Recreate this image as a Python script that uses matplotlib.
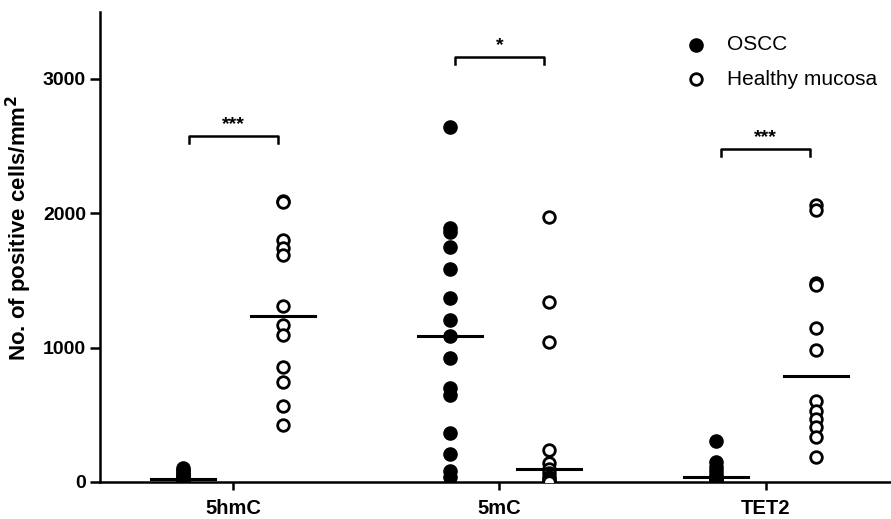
import numpy as np
import matplotlib
matplotlib.use("Agg")
import matplotlib.pyplot as plt

plt.rcParams["font.family"] = ["Liberation Sans", "DejaVu Sans"]

markers = ["5hmC", "5mC", "TET2"]
groups = ["OSCC", "Healthy mucosa"]

oscc = [
    [105, 90, 75, 60, 45, 35, 25, 20, 15, 10, 8, 5, 3, 0],
    [2640, 1890, 1860, 1750, 1585, 1370, 1205, 1090, 925, 700, 650, 365, 205, 80, 40],
    [305, 150, 115, 80, 55, 40, 30, 20, 12, 5, 2, 0],
]
healthy = [
    [2090, 2085, 1800, 1740, 1690, 1310, 1165, 1095, 855, 745, 565, 425],
    [1975, 1340, 1045, 235, 140, 100, 70, 40, 20, 10, 0],
    [2065, 2025, 1480, 1470, 1145, 985, 600, 530, 470, 410, 335, 185],
]
stars = ["***", "*", "***"]
bracket_y = [2575, 3165, 2480]

OFF = 0.1875

fig = plt.figure(figsize=(8.91, 5.19), dpi=100)
ax = fig.add_axes([0.1122, 0.0713, 0.8878, 0.906])

for i in range(len(markers)):
    xo, xh = i - OFF, i + OFF
    ax.scatter([xo] * len(oscc[i]), oscc[i], s=90, color="black", zorder=3)
    ax.scatter([xh] * len(healthy[i]), healthy[i], s=70, facecolor="white",
               edgecolor="black", linewidth=2.0, zorder=3)
    # median bars
    for x, vals in ((xo, oscc[i]), (xh, healthy[i])):
        m = np.median(vals)
        ax.plot([x - 0.12, x + 0.12], [m, m], color="black", lw=2.2, zorder=4)
    y = bracket_y[i]
    ax.plot([xo + 0.02, xo + 0.02, xh - 0.02, xh - 0.02],
            [y - 55, y, y, y - 55], color="black", lw=1.8)
    ax.text(i, y + 20, stars[i], ha="center", va="bottom", fontsize=14,
            fontweight="bold")

ax.scatter([], [], s=90, color="black", label=groups[0])
ax.scatter([], [], s=70, facecolor="white", edgecolor="black", linewidth=2.0,
           label=groups[1])
ax.legend(loc="upper right", bbox_to_anchor=(1.006, 0.99), frameon=False,
          fontsize=15, handletextpad=0.5, labelspacing=0.75)

ax.set_xlim(-0.5, 2.47)
ax.set_ylim(0, 3500)
ax.set_yticks([0, 1000, 2000, 3000])
ax.set_xticks(range(len(markers)))
ax.set_xticklabels(markers, fontsize=14.5, fontweight="bold")
for lab in ax.get_yticklabels():
    lab.set_fontsize(14)
    lab.set_fontweight("bold")
ax.set_ylabel("No. of positive cells/mm$^\\mathbf{2}$", fontsize=16,
              fontweight="bold")
ax.yaxis.set_label_coords(-0.083, 0.54)

for s in ("top", "right"):
    ax.spines[s].set_visible(False)
for s in ("left", "bottom"):
    ax.spines[s].set_linewidth(1.8)
ax.tick_params(axis="y", length=7, width=1.8, pad=3)
ax.tick_params(axis="x", length=6, width=1.8, pad=6)

fig.savefig("out.png", dpi=100, facecolor="white")
